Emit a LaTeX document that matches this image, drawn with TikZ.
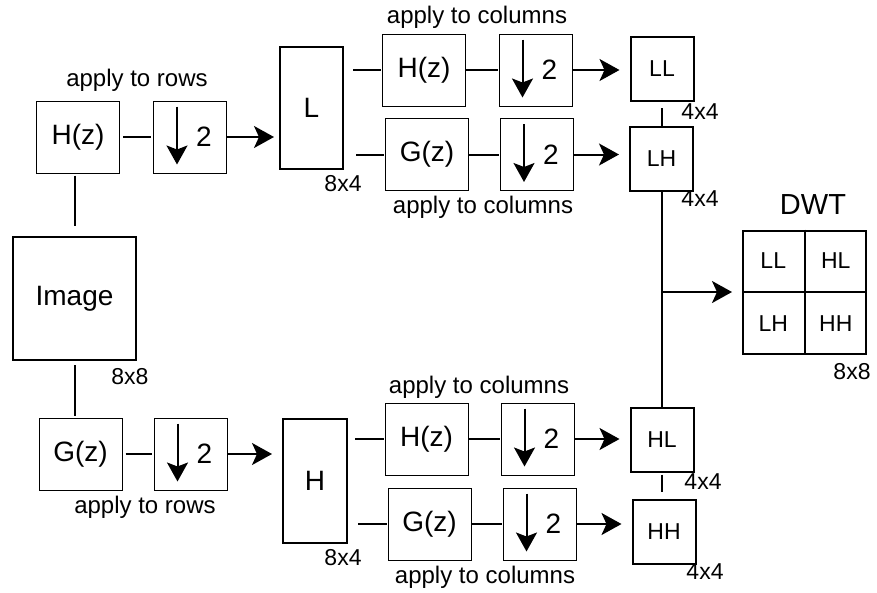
\documentclass[tikz,border=0pt]{standalone}
\usepackage{fontspec}
\setmainfont{Liberation Sans}
\usetikzlibrary{arrows.meta, calc}

\begin{document}
\begin{tikzpicture}[x=1pt, y=-1pt,
    filt/.style={draw, line width=1pt, minimum width=83pt, minimum height=72pt, inner sep=0pt, font=\fontsize{28}{30}\selectfont},
    ds/.style={draw, line width=1pt, minimum width=73pt, minimum height=72pt, inner sep=0pt},
    bigbox/.style={draw, line width=2pt, inner sep=0pt, font=\fontsize{28}{30}\selectfont},
    sub/.style={draw, line width=2pt, minimum width=63pt, minimum height=64pt, inner sep=0pt, font=\fontsize{23}{25}\selectfont},
    note/.style={inner sep=0pt, font=\fontsize{24}{26}\selectfont},
    dim/.style={inner sep=0pt, font=\fontsize{23}{25}\selectfont},
    link/.style={line width=2pt},
    flow/.style={line width=2pt, -{Stealth[length=20pt, width=22pt, inset=5pt]}},
  ]
    \useasboundingbox (0,0) rectangle (877,592);

    % 行滤波
    \node[filt] (hzr) at (78,137) {H(z)};
    \node[ds] (dsr1) at (190,137) {};
    \node[note] at (137,80) {apply to rows};
    \node[bigbox, minimum size=123pt] (img) at (74.5,298.5) {Image};
    \node[dim] at (130,377) {8x8};
    \node[filt] (gzr) at (80.5,454) {G(z)};
    \node[ds] (dsr2) at (190.5,454) {};
    \node[note] at (145,507) {apply to rows};

    % L 与 H
    \node[bigbox, minimum width=63pt, minimum height=122pt] (lo) at (311.5,108) {L};
    \node[dim] at (343,184) {8x4};
    \node[bigbox, minimum width=64pt, minimum height=124pt] (hi) at (315,481) {H};
    \node[dim] at (343,558) {8x4};

    % 列滤波
    \node[filt] (hzc1) at (424,70) {H(z)};
    \node[ds] (dsc1) at (535.5,70) {};
    \node[note] at (477,17) {apply to columns};
    \node[filt] (gzc1) at (427,154.5) {G(z)};
    \node[ds] (dsc2) at (537,154.5) {};
    \node[note] at (483,207) {apply to columns};
    \node[filt] (hzc2) at (426.5,439) {H(z)};
    \node[ds] (dsc3) at (537.5,439) {};
    \node[note] at (479,387) {apply to columns};
    \node[filt] (gzc2) at (429.5,524) {G(z)};
    \node[ds] (dsc4) at (539.5,524) {};
    \node[note] at (485,577) {apply to columns};

    % 下采样符号
    \foreach \ds in {dsr1,dsr2,dsc1,dsc2,dsc3,dsc4} {
        \draw[line width=2pt, -{Stealth[length=19pt, width=21pt, inset=4pt]}]
            ([xshift=-13pt, yshift=-6pt]\ds.north) -- ([xshift=-13pt, yshift=9pt]\ds.south);
        \node[font=\fontsize{28}{30}\selectfont] at ([xshift=14pt]\ds.center) {2};
    }

    % 子带
    \node[sub] (ll) at (662,69) {LL};
    \node[dim] at (700,112) {4x4};
    \node[sub] (lh) at (661.5,159) {LH};
    \node[dim] at (700,199) {4x4};
    \node[sub] (hl) at (662,439.5) {HL};
    \node[dim] at (703,482) {4x4};
    \node[sub] (hh) at (664,531.5) {HH};
    \node[dim] at (705,572) {4x4};

    % DWT 结果
    \node[bigbox, minimum size=123pt] (dwt) at (804.5,292) {};
    \draw[link] (dwt.north) -- (dwt.south) (dwt.west) -- (dwt.east);
    \node[sub, draw=none] at ($(dwt.center)!0.5!(dwt.north west)$) {LL};
    \node[sub, draw=none] at ($(dwt.center)!0.5!(dwt.north east)$) {HL};
    \node[sub, draw=none] at ($(dwt.center)!0.5!(dwt.south west)$) {LH};
    \node[sub, draw=none] at ($(dwt.center)!0.5!(dwt.south east)$) {HH};
    \node[font=\fontsize{29}{31}\selectfont] at (813,205) {DWT};
    \node[dim] at (852,372) {8x8};

    % 连线
    \draw[link, shorten <=3pt, shorten >=2pt] (hzr) -- (dsr1);
    \draw[flow, shorten >=5pt] (dsr1.east) -- (dsr1.east -| lo.west);
    \draw[link, shorten <=2pt, shorten >=10pt] (img.north |- hzr.south) -- (img.north);
    \draw[link, shorten <=4pt, shorten >=2pt] (img.south) -- (img.south |- gzr.north);
    \draw[link, shorten <=3pt, shorten >=2pt] (gzr) -- (dsr2);
    \draw[flow, shorten >=10pt] (dsr2.east) -- (dsr2.east -| hi.west);

    \draw[link, shorten <=9pt, shorten >=1pt] (hzc1.west -| lo.east) -- (hzc1.west);
    \draw[link, shorten <=12pt, shorten >=1pt] (gzc1.west -| lo.east) -- (gzc1.west);
    \draw[link, shorten <=7pt, shorten >=1pt] (hzc2.west -| hi.east) -- (hzc2.west);
    \draw[link, shorten <=10pt, shorten >=1pt] (gzc2.west -| hi.east) -- (gzc2.west);
    \draw[link, shorten >=1pt] (hzc1) -- (dsc1);
    \draw[link, shorten >=1pt] (gzc1) -- (dsc2);
    \draw[link, shorten >=1pt] (hzc2) -- (dsc3);
    \draw[link, shorten >=1pt] (gzc2) -- (dsc4);

    \draw[flow, shorten >=10pt] (dsc1.east) -- (dsc1.east -| ll.west);
    \draw[flow, shorten >=10pt] (dsc2.east) -- (dsc2.east -| lh.west);
    \draw[flow, shorten >=10pt] (dsc3.east) -- (dsc3.east -| hl.west);
    \draw[flow, shorten >=10pt] (dsc4.east) -- (dsc4.east -| hh.west);

    \draw[link, shorten <=6pt] (ll.south) -- (ll.south |- lh.north);
    \draw[link] (lh.south) -- (lh.south |- hl.north);
    \draw[link, shorten <=2pt, shorten >=7pt] (hl.south) -- (hl.south |- hh.north);
    \coordinate (br) at (lh.south |- dwt.west);
    \draw[flow, shorten >=10pt] (br) -- (dwt.west);

\end{tikzpicture}
\end{document}
